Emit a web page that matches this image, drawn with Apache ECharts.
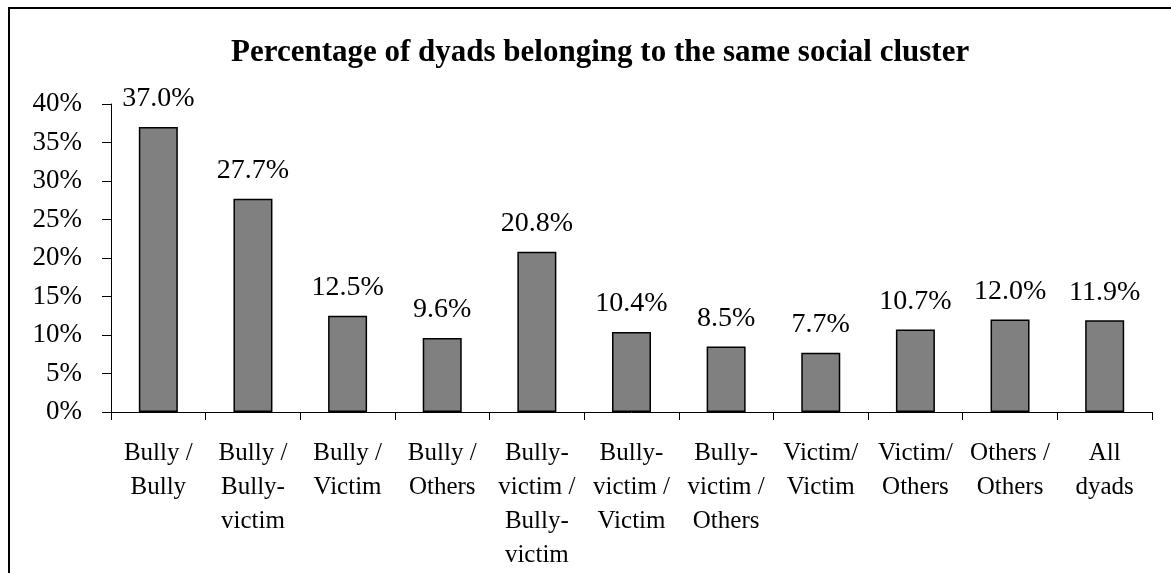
<!DOCTYPE html>
<html><head><meta charset="utf-8">
<script src="https://cdn.jsdelivr.net/npm/echarts@6/dist/echarts.min.js"></script>
<style>html,body{margin:0;padding:0;background:#fff}#c{width:1171px;height:573px}</style>
</head><body><div id="c"></div>
<script>
const titleText = 'Percentage of dyads belonging to the same social cluster';
const categories = ['Bully /\nBully','Bully /\nBully-\nvictim','Bully /\nVictim','Bully /\nOthers','Bully-\nvictim /\nBully-\nvictim','Bully-\nvictim /\nVictim','Bully-\nvictim /\nOthers','Victim/\nVictim','Victim/\nOthers','Others /\nOthers','All\ndyads'];
const values = [37.0, 27.7, 12.5, 9.6, 20.8, 10.4, 8.5, 7.7, 10.7, 12.0, 11.9];
const yTicks = [0,5,10,15,20,25,30,35,40];

const font = 'Liberation Serif, Times New Roman, serif';
const chart = echarts.init(document.getElementById('c'));
chart.setOption({
  animation:false,
  title:{text:titleText,left:226,top:32,textStyle:{fontFamily:font,fontWeight:'bold',fontSize:31,color:'#000'}},
  graphic:[{type:'rect',shape:{x:9,y:8,width:1300,height:700},style:{fill:'none',stroke:'#000',lineWidth:2},silent:true}],
  grid:{left:111,right:19,top:104,bottom:161,containLabel:false},
  xAxis:{type:'category',data:categories,
    axisLine:{lineStyle:{color:'#000',width:1}},
    axisTick:{show:true,alignWithLabel:false,length:8,lineStyle:{color:'#000'}},
    axisLabel:{interval:0,color:'#000',fontFamily:font,fontSize:25,lineHeight:34,margin:24}},
  yAxis:{type:'value',min:yTicks[0],max:yTicks[yTicks.length-1],interval:5,
    splitLine:{show:false},
    axisLine:{show:true,lineStyle:{color:'#000',width:1}},
    axisTick:{show:true,length:9,lineStyle:{color:'#000'}},
    axisLabel:{color:'#000',fontFamily:font,fontSize:27,margin:29,formatter:v=>v+'%'}},
  series:[{type:'bar',data:values,barWidth:39,
    itemStyle:{color:'#808080',borderColor:'#000',borderWidth:1.5},
    label:{show:true,position:'top',distance:14,color:'#000',fontFamily:font,fontSize:28,formatter:p=>p.value.toFixed(1)+'%'}}]
});
</script></body></html>
